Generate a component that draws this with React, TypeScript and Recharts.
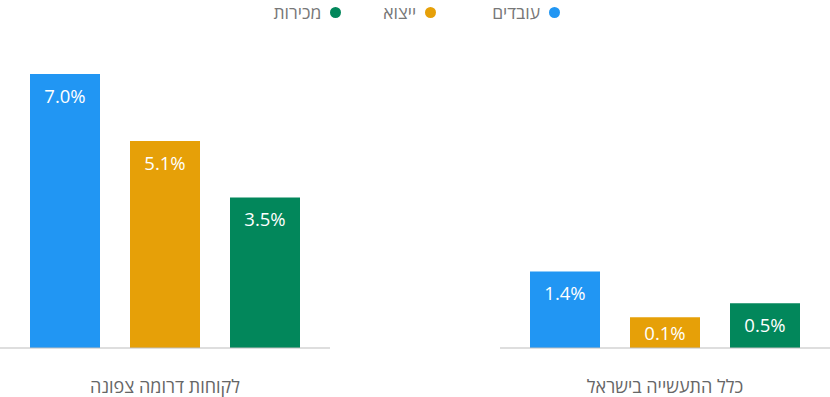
import { BarChart, Bar, XAxis, YAxis, LabelList } from "recharts";

// series (legend order, right to left)
const SERIES = ["עובדים", "ייצוא", "מכירות"];
const SERIES_KEYS = ["workers", "exports", "sales"];
const COLORS = ["#2196F3", "#E6A008", "#02875B"];

// the two groups
const GROUPS = ["לקוחות דרומה צפונה", "כלל התעשייה בישראל"];
const WORKERS = [7.0, 1.4];
const EXPORTS = [5.1, 0.1];
const SALES = [3.5, 0.5];

// value axis (bars start a bit below zero, like the original)
const AXIS_MIN = -0.77;
const AXIS_MAX = 7.0;

const FONT = "'Open Sans', sans-serif";

const ValueLabel = (props: any) => {
  const { x, y, width, height, value } = props;
  const top = Math.min(y, y + height);
  const h = Math.abs(height);
  return (
    <text
      x={x + width / 2}
      y={top + Math.min(21, h / 2)}
      textAnchor="middle"
      dominantBaseline="central"
      fill="#fff"
      fontSize={18.5}
      fontFamily={FONT}
    >
      {Number(value).toFixed(1)}%
    </text>
  );
};

const GroupTick = (props: any) => {
  const { x, payload } = props;
  return (
    <text
      x={x}
      y={386}
      textAnchor="middle"
      dominantBaseline="central"
      fill="#666"
      fontSize={18}
      fontFamily={FONT}
    >
      {payload.value}
    </text>
  );
};

function GroupChart({ index }: { index: number }) {
  const data = [
    {
      name: GROUPS[index],
      workers: WORKERS[index],
      exports: EXPORTS[index],
      sales: SALES[index],
    },
  ];
  return (
    <BarChart
      width={330}
      height={397}
      data={data}
      margin={{ top: 74, right: 0, bottom: 0, left: 0 }}
      barSize={70}
      barGap={30}
      barCategoryGap={30}
    >
      <XAxis
        dataKey="name"
        height={49}
        axisLine={{ stroke: "#bdbdbd" }}
        tickLine={false}
        tick={<GroupTick />}
        interval={0}
      />
      <YAxis hide domain={[AXIS_MIN, AXIS_MAX]} allowDataOverflow />
      {SERIES_KEYS.map((key, i) => (
        <Bar
          key={key}
          dataKey={(d: any) => [AXIS_MIN, d[key]]}
          fill={COLORS[i]}
          isAnimationActive={false}
        >
          <LabelList dataKey={key} content={<ValueLabel />} />
        </Bar>
      ))}
    </BarChart>
  );
}

export default function App() {
  const legendGaps = [0, 56, 42];
  return (
    <div
      style={{
        position: "absolute",
        left: 0,
        top: 0,
        width: 830,
        height: 397,
        background: "#fff",
        fontFamily: FONT,
        overflow: "hidden",
      }}
    >
      {/* legend */}
      <div
        style={{
          position: "absolute",
          top: 0,
          right: 270,
          display: "flex",
          flexDirection: "row-reverse",
          alignItems: "center",
        }}
      >
        {SERIES.map((s, i) => (
          <div
            key={s}
            style={{
              display: "flex",
              flexDirection: "row-reverse",
              alignItems: "center",
              marginRight: legendGaps[i],
            }}
          >
            <span
              style={{
                width: 11,
                height: 11,
                borderRadius: "50%",
                background: COLORS[i],
                marginLeft: 9,
              }}
            />
            <span style={{ fontSize: 17.5, color: "#777", lineHeight: "normal" }} dir="rtl">
              {s}
            </span>
          </div>
        ))}
      </div>

      <div style={{ position: "absolute", left: 0, top: 0 }}>
        <GroupChart index={0} />
      </div>
      <div style={{ position: "absolute", left: 500, top: 0 }}>
        <GroupChart index={1} />
      </div>
    </div>
  );
}
